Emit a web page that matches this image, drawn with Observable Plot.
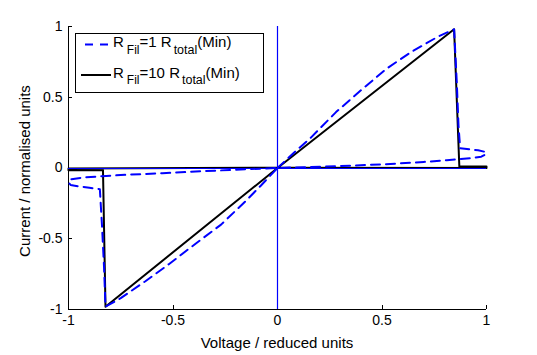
<!DOCTYPE html>
<html><head><meta charset="utf-8">
<script src="https://cdn.jsdelivr.net/npm/d3@7"></script>
<script src="https://cdn.jsdelivr.net/npm/@observablehq/plot@0.6"></script>
<style>
body{margin:0;background:#fff;}
#chart{width:537px;height:355px;}
</style>
</head><body><div id="chart"></div>
<script>
// Tick values
const xTicks = [-1, -0.5, 0, 0.5, 1];
const yTicks = [-1, -0.5, 0, 0.5, 1];
const xLabel = "Voltage / reduced units";
const yLabel = "Current / normalised units";

// Series: R_Fil = 10 R_total (black, solid)
const blackV = [0, 0.845, 0.87, 1.0, 1.0, 0, -1.0, -1.0, -0.835, -0.823, 0];
const blackI = [0, 0.98, 0.01, 0.01, 0.0, 0.002, -0.004, -0.016, -0.016, -0.98, 0];

// Series: R_Fil = 1 R_total (blue, dashed)
const blueV = [0, 0.08, 0.16, 0.28, 0.40, 0.52, 0.64, 0.77, 0.845, 0.858, 0.866, 0.874,
  0.92, 0.96, 0.99, 1.0, 0.975, 0.93, 0.81, 0.70, 0.52, 0.30, 0.15, 0,
  -0.15, -0.35, -0.55, -0.70, -0.82, -0.92, -0.99, -1.0, -0.99, -0.95, -0.90, -0.85,
  -0.84, -0.83, -0.823, -0.75, -0.632, -0.52, -0.392, -0.27, -0.153, -0.08, 0];
const blueI = [0, 0.11, 0.215, 0.395, 0.55, 0.70, 0.82, 0.93, 0.98, 0.6, 0.3, 0.14,
  0.132, 0.125, 0.115, 0.1, 0.08, 0.071, 0.055, 0.043, 0.027, 0.014, 0.007, 0,
  -0.009, -0.022, -0.037, -0.046, -0.056, -0.066, -0.08, -0.1, -0.12, -0.13, -0.14, -0.15,
  -0.4, -0.7, -0.98, -0.92, -0.80, -0.68, -0.535, -0.40, -0.235, -0.125, 0];

const legendItems = [
  {name: "R", sub1: "Fil", mid: "=1 R", sub2: "total", tail: "(Min)", color: "#0000ff", dash: "8,7"},
  {name: "R", sub1: "Fil", mid: "=10 R", sub2: "total", tail: "(Min)", color: "#000000", dash: null}
];

const black = blackV.map((v, i) => ({v, i: blackI[i]}));
const blue = blueV.map((v, i) => ({v, i: blueI[i]}));

const W = 537, H = 355, mL = 68, mR = 51, mT = 26, mB = 46;
const font = "'Liberation Sans', Arial, Helvetica, sans-serif";

const plot = Plot.plot({
  width: W, height: H,
  marginLeft: mL, marginRight: mR, marginTop: mT, marginBottom: mB,
  style: {fontFamily: font, fontSize: "14px", background: "white", overflow: "visible"},
  x: {domain: [-1, 1]},
  y: {domain: [-1, 1]},
  marks: [
    Plot.axisX({ticks: xTicks, tickSize: 0, tickPadding: 6, tickFormat: d => String(d), label: null, fontSize: 14}),
    Plot.axisY({ticks: yTicks, tickSize: 0, tickPadding: 6, tickFormat: d => String(d), label: null, fontSize: 14}),
    Plot.ruleX(xTicks, {x: d => d, insetTop: (H - mT - mB) - 4, stroke: "black", shapeRendering: "crispEdges"}),
    Plot.ruleY(yTicks, {y: d => d, insetRight: (W - mL - mR) - 4, stroke: "black", shapeRendering: "crispEdges"}),
    Plot.ruleX([xTicks[0]], {x: d => d, stroke: "black", shapeRendering: "crispEdges"}),
    Plot.ruleY([yTicks[0]], {y: d => d, stroke: "black", shapeRendering: "crispEdges"}),
    Plot.line(black, {x: "v", y: "i", stroke: "black", strokeWidth: 2, curve: "linear"}),
    Plot.line(blue, {x: "v", y: "i", stroke: "rgb(0,0,255)", strokeWidth: 2, strokeDasharray: "9,6", curve: "linear"}),
    Plot.ruleY([0], {y: d => d, stroke: "rgb(0,0,255)", strokeWidth: 1, shapeRendering: "crispEdges"}),
    Plot.ruleX([0], {x: d => d, stroke: "rgb(0,0,255)", strokeWidth: 1.2})
  ]
});
document.getElementById("chart").appendChild(plot);

const svg = d3.select(plot);
// Axis titles
svg.append("text").attr("x", 277).attr("y", 348).attr("text-anchor", "middle")
  .attr("font-family", font).attr("font-size", 15).attr("fill", "black").text(xLabel);
svg.append("text").attr("transform", "translate(30,171) rotate(-90)").attr("text-anchor", "middle")
  .attr("font-family", font).attr("font-size", 15).attr("fill", "black").text(yLabel);

// Legend box
const lg = svg.append("g").attr("font-family", font).attr("fill", "black").attr("text-anchor", "start");
lg.append("rect").attr("x", 75.5).attr("y", 33.5).attr("width", 188).attr("height", 59)
  .attr("fill", "white").attr("stroke", "black").attr("stroke-width", 1);
legendItems.forEach((d, k) => {
  const yy = 44.5 + k * 30.5;
  if (d.dash) {
    lg.append("line").attr("x1", 85).attr("x2", 108).attr("y1", yy).attr("y2", yy)
      .attr("stroke", d.color).attr("stroke-width", 2).attr("stroke-dasharray", d.dash);
  } else {
    lg.append("line").attr("x1", 81).attr("x2", 111).attr("y1", yy).attr("y2", yy)
      .attr("stroke", d.color).attr("stroke-width", 2);
  }
  const t = lg.append("text").attr("x", 113).attr("y", yy + 2.5).attr("font-size", 15).attr("text-anchor", "start");
  t.append("tspan").text(d.name);
  t.append("tspan").attr("dx", 3).attr("dy", 6.5).attr("font-size", 12).text(d.sub1);
  t.append("tspan").attr("dy", -6.5).attr("font-size", 15).text(d.mid);
  t.append("tspan").attr("dx", 2).attr("dy", 6.5).attr("font-size", 12.5).text(d.sub2);
  t.append("tspan").attr("dy", -6.5).attr("font-size", 15).text(d.tail);
});
</script>
</body></html>
